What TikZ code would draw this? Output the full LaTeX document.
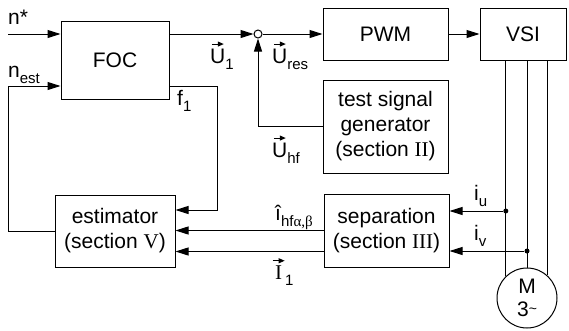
\documentclass[tikz,border=0pt]{standalone}
\usepackage{fontspec}
\setmainfont{Liberation Sans}
\newfontfamily\serif{Liberation Serif}
\usetikzlibrary{arrows.meta,calc}
\newcommand\lsub[1]{\raisebox{-0.3em}{\fontsize{15}{15}\selectfont #1}}
\newcommand\varrow{\tikz[baseline=0pt]\draw[line width=0.9pt,-{Triangle[length=6pt,width=5pt]}] (0pt,0pt) -- (12pt,0pt);}
\newcommand\vect[1]{\leavevmode\vbox{\offinterlineskip\halign{\hfil##\hfil\cr\varrow\cr\noalign{\kern2pt}#1\cr}}}
\begin{document}
\begin{tikzpicture}[x=1pt,y=-1pt,
  every node/.style={font=\fontsize{21}{25}\selectfont},
  line/.style={line width=1pt},
  arr/.style={line width=1pt,-{Triangle[length=13pt,width=8pt]}},
  blk/.style={draw,line width=1pt,inner sep=0pt,align=center},
  lbl/.style={inner sep=0pt,anchor=base west},
  dot/.style={circle,fill,inner sep=0pt,minimum size=5pt}]
\useasboundingbox (0,0) rectangle (569,330);
% blocks
\node[blk,minimum width=108pt,minimum height=78pt] (foc) at (115,60) {FOC};
\node[blk,minimum width=125pt,minimum height=52pt] (pwm) at (385.5,34) {PWM};
\node[blk,minimum width=86pt,minimum height=52pt] (vsi) at (523,34) {VSI};
\node[blk,minimum width=125pt,minimum height=93pt] (tsg) at (385.5,126.5) {test signal\\generator\\(section {\serif II})};
\node[blk,minimum width=120pt,minimum height=72pt] (est) at (115,231) {estimator\\(section {\serif V})};
\node[blk,minimum width=125pt,minimum height=73pt] (sep) at (386.5,230.5) {separation\\(section {\serif III})};
\node[draw,circle,line width=1pt,minimum size=8pt,inner sep=0pt] (sum) at (258,34) {};
\node[draw,circle,line width=1pt,minimum size=60pt,inner sep=0pt,align=center,font=\fontsize{21}{23}\selectfont] (mot) at (527,298) {M\\3\raisebox{0.15em}{\fontsize{14}{14}\selectfont\textasciitilde}};
% free ends
\coordinate (nin) at (8,34);
\coordinate (fbk) at (8,86);
\coordinate (fc) at (217,86);
% connectors
\draw[arr] (nin) -- (nin -| foc.west);
\draw[arr] (est.west) -| (fbk) -- (fbk -| foc.west);
\draw[arr] (fbk -| foc.east) -| (fc) |- ([yshift=21pt]est.east);
\draw[arr] (foc.east |- sum) -- (sum.west);
\draw[arr] (sum.east) -- (pwm.west);
\draw[arr] (pwm.east) -- (vsi.west);
\draw[arr] (tsg.west) -| (sum.south);
\draw[arr] (sep.west) -- (sep.west -| est.east);
\draw[arr] ([yshift=-21pt]sep.west) -- ([yshift=-21pt]sep.west -| est.east);
% motor lines
\draw[line] (mot.134 |- vsi.south) -- (mot.134);
\draw[line] (mot.north |- vsi.south) -- (mot.north);
\draw[line] (mot.48 |- vsi.south) -- (mot.48);
\coordinate (iu) at ([yshift=19.5pt]sep.east);
\coordinate (iv) at ([yshift=-20.5pt]sep.east);
\node[dot] (du) at (mot.134 |- iu) {};
\node[dot] (dv) at (mot.north |- iv) {};
\draw[arr] (du) -- (iu);
\draw[arr] (dv) -- (iv);
% labels
\node[lbl] (l1) at (8,24) {n*};
\node[lbl] (l2) at (8,77) {n\lsub{est}};
\node[lbl] (l3) at (177,105) {f\lsub{1}};
\node[lbl] (l4) at (210,63) {\vect{U}\lsub{1}};
\node[lbl] (l5) at (272,63) {\vect{U}\lsub{res}};
\node[lbl] (l6) at (272,157) {\vect{U}\lsub{hf}};
\node[lbl] (l7) at (275,220) {î\lsub{hf{\serif α,β}}};
\node[lbl] (l8) at (272,279) {\vect{\serif I}\lsub{1}};
\node[lbl] (l9) at (474,200) {i\lsub{u}};
\node[lbl] (l10) at (474,240) {i\lsub{v}};
\end{tikzpicture}
\end{document}
